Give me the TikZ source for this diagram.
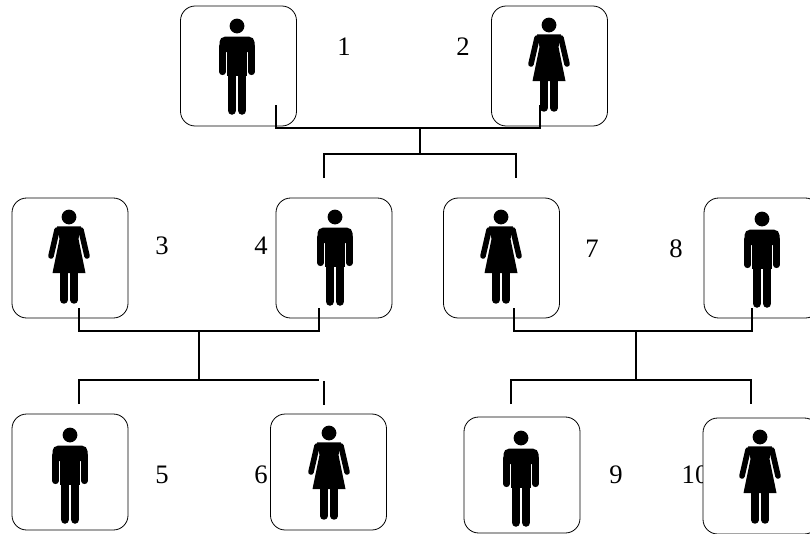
\documentclass[tikz,border=0pt]{standalone}
\usepackage{fontspec}
\setmainfont{Liberation Serif}
\usepackage{tikz}
\usetikzlibrary{positioning}

\tikzset{
    man/.pic={
        \fill (0,0) circle[radius=7.4];
        \fill[rounded corners=4pt] (-17.5,26) -- (-17.5,10.7) -- (17.5,10.7) -- (17.5,26) -- cycle;
        \fill (-10,20) rectangle (10,50);
        \draw[line width=4.6pt, line cap=round] (-14.5,20) -- (-14.5,46) (14.5,20) -- (14.5,46);
        \draw[line width=6.4pt, line cap=round] (-5.2,46) -- (-5.2,84.5) (5.2,46) -- (5.2,84.5);
    },
    woman/.pic={
        \fill (0,0) circle[radius=7.4];
        \fill (-12,9.3) -- (12,9.3) -- (9.5,22) -- (16.5,56) -- (-16.5,56) -- (-9.5,22) -- cycle;
        \draw[line width=4.2pt, line cap=round] (-12,13) -- (-18,39) (12,13) -- (18,39);
        \draw[line width=5.6pt, line cap=round] (-5.2,54) -- (-5.2,83) (5.2,54) -- (5.2,83);
    }
}

\begin{document}
\begin{tikzpicture}[
    x=0.75pt, y=-0.75pt,
    tile/.style={draw, fill=white, rounded corners=11pt, line width=0.6pt, minimum width=87pt, minimum height=90pt, inner sep=0pt},
    low/.style={minimum height=87pt},
    num/.style={font=\fontsize{20}{22}\selectfont, inner sep=0pt},
    link/.style={line width=1.4pt}
]
    \useasboundingbox (0,0) rectangle (810,533);

    % numbers
    \node[num] (n1) at (344,46.5) {1};
    \node[num] (n2) at (463,46.5) {2};
    \node[num] (n3) at (162,246) {3};
    \node[num] (n4) at (261,246) {4};
    \node[num] (n7) at (592,249) {7};
    \node[num] (n8) at (676,249) {8};
    \node[num] (n5) at (162,475) {5};
    \node[num] (n6) at (261,475) {6};
    \node[num] (n9) at (616,475) {9};
    \node[num] (n10) at (695,475) {10};

    % boxes
    \node[tile] (b1) at (238.5,66) {};
    \node[tile] (b2) at (549.5,66) {};
    \node[tile] (b3) at (70,258) {};
    \node[tile] (b4) at (334,258) {};
    \node[tile] (b7) at (501.5,258) {};
    \node[tile] (b8) at (762,258) {};
    \node[tile, low] (b5) at (70,472) {};
    \node[tile, low] (b6) at (328.5,472) {};
    \node[tile, low] (b9) at (522,475) {};
    \node[tile, low] (b10) at (761,476) {};

    % people
    \pic at (237,26) {man};
    \pic at (549,25) {woman};
    \pic at (69,217) {woman};
    \pic at (335,217) {man};
    \pic at (501,217) {woman};
    \pic at (762,219) {man};
    \pic at (70,435) {man};
    \pic at (329,433) {woman};
    \pic at (521,438) {man};
    \pic at (760,437) {woman};

    % connector ends
    \coordinate (p1) at (276,105);
    \coordinate (p2) at (540,105);
    \coordinate (j1) at (420,128);
    \coordinate (f1) at (420,154);
    \coordinate (c4) at (324,178);
    \coordinate (c7) at (516,178);
    \coordinate (p3) at (79,308);
    \coordinate (p4) at (319,308);
    \coordinate (j2) at (199,331);
    \coordinate (f2) at (199,380);
    \coordinate (c5) at (79,404);
    \coordinate (c6a) at (319,380);
    \coordinate (c6b) at (324,381);
    \coordinate (c6c) at (324,405);
    \coordinate (p7) at (514,308);
    \coordinate (p8) at (752,308);
    \coordinate (j3) at (636,331);
    \coordinate (f3) at (636,380);
    \coordinate (c9) at (511,404);
    \coordinate (c10) at (751,404);

    \draw[link] (p1) |- (j1) -| (p2);
    \draw[link] (j1) -- (f1);
    \draw[link] (c4) |- (f1) -| (c7);
    \draw[link] (p3) |- (j2) -| (p4);
    \draw[link] (j2) -- (f2);
    \draw[link] (c5) |- (f2) -- (c6a);
    \draw[link] (c6b) -- (c6c);
    \draw[link] (p7) |- (j3) -| (p8);
    \draw[link] (j3) -- (f3);
    \draw[link] (c9) |- (f3) -| (c10);
\end{tikzpicture}
\end{document}
